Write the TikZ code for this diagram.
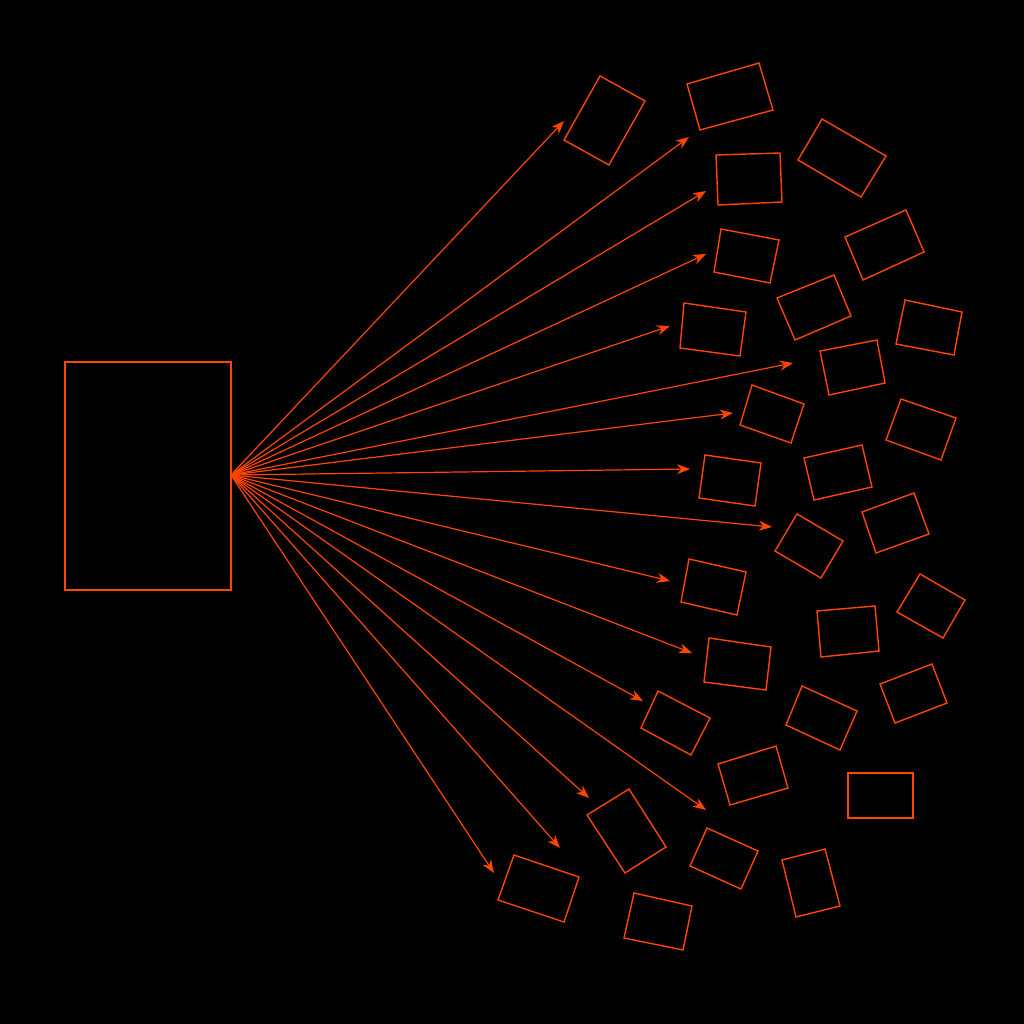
\documentclass[tikz,border=0pt]{standalone}
\usetikzlibrary{arrows.meta}
\definecolor{fg}{RGB}{255,69,0}
\begin{document}
\begin{tikzpicture}[x=1pt,y=-1pt,
  shp/.style={draw=fg,line width=1.4pt,line join=miter},
  arr/.style={draw=fg,line width=1.2pt,-{Stealth[length=13pt,width=10pt,inset=4pt]}}]
\fill[black] (0,0) rectangle (1024,1024);
\useasboundingbox (0,0) rectangle (1024,1024);
\node[shp,line width=1.7pt,minimum width=166pt,minimum height=228pt,inner sep=0pt,outer sep=0pt,anchor=north west] (src) at (65,362) {};
\coordinate (s) at (231,475);
% boxes
\draw[shp] (600,76)--(645,101)--(609,165)--(564,140)--cycle;
\draw[shp] (687,84)--(759,63)--(773,110)--(700,130)--cycle;
\draw[shp] (716,155)--(780,153)--(782,202)--(718,205)--cycle;
\draw[shp] (822,119)--(886,156)--(861,197)--(798,160)--cycle;
\draw[shp] (721,229)--(779,240)--(770,283)--(714,272)--cycle;
\draw[shp] (845,237)--(906,210)--(924,252)--(863,280)--cycle;
\draw[shp] (777,298)--(834,275)--(851,316)--(795,340)--cycle;
\draw[shp] (684,303)--(746,312)--(740,356)--(680,348)--cycle;
\draw[shp] (905,300)--(962,312)--(954,355)--(896,344)--cycle;
\draw[shp] (820,351)--(877,340)--(885,383)--(829,395)--cycle;
\draw[shp] (752,385)--(804,404)--(791,443)--(740,425)--cycle;
\draw[shp] (901,399)--(956,418)--(941,460)--(886,440)--cycle;
\draw[shp] (705,455)--(761,463)--(755,506)--(699,498)--cycle;
\draw[shp] (804,458)--(862,445)--(872,487)--(814,500)--cycle;
\draw[shp] (862,512)--(914,493)--(929,534)--(876,553)--cycle;
\draw[shp] (797,514)--(843,541)--(821,578)--(775,551)--cycle;
\draw[shp] (689,559)--(746,572)--(737,615)--(681,602)--cycle;
\draw[shp] (817,611)--(875,606)--(879,651)--(821,657)--cycle;
\draw[shp] (920,574)--(965,600)--(943,638)--(897,612)--cycle;
\draw[shp] (709,638)--(771,647)--(766,690)--(704,682)--cycle;
\draw[shp] (658,691)--(710,718)--(691,755)--(641,728)--cycle;
\draw[shp] (802,686)--(857,711)--(840,750)--(786,725)--cycle;
\draw[shp] (880,684)--(932,664)--(947,703)--(895,723)--cycle;
\draw[shp] (718,764)--(776,746)--(788,788)--(730,805)--cycle;
\draw[shp] (848,773)--(913,773)--(913,818)--(848,818)--cycle;
\draw[shp] (587,815)--(629,789)--(666,847)--(625,873)--cycle;
\draw[shp] (707,828)--(758,851)--(741,889)--(690,866)--cycle;
\draw[shp] (782,860)--(825,849)--(840,906)--(796,917)--cycle;
\draw[shp] (514,855)--(579,877)--(564,922)--(498,900)--cycle;
\draw[shp] (634,893)--(692,906)--(683,950)--(624,938)--cycle;
% arrow targets
\coordinate (t1) at (564,121);
\coordinate (t2) at (689,137);
\coordinate (t3) at (706,191);
\coordinate (t4) at (706,254);
\coordinate (t5) at (670,326);
\coordinate (t6) at (793,363);
\coordinate (t7) at (733,413);
\coordinate (t8) at (690,469);
\coordinate (t9) at (772,527);
\coordinate (t10) at (670,581);
\coordinate (t11) at (692,653);
\coordinate (t12) at (643,701);
\coordinate (t13) at (589,798);
\coordinate (t14) at (706,810);
\coordinate (t15) at (560,848);
\coordinate (t16) at (494,873);
\draw[arr] (s) -- (t1);
\draw[arr] (s) -- (t2);
\draw[arr] (s) -- (t3);
\draw[arr] (s) -- (t4);
\draw[arr] (s) -- (t5);
\draw[arr] (s) -- (t6);
\draw[arr] (s) -- (t7);
\draw[arr] (s) -- (t8);
\draw[arr] (s) -- (t9);
\draw[arr] (s) -- (t10);
\draw[arr] (s) -- (t11);
\draw[arr] (s) -- (t12);
\draw[arr] (s) -- (t13);
\draw[arr] (s) -- (t14);
\draw[arr] (s) -- (t15);
\draw[arr] (s) -- (t16);
\end{tikzpicture}
\end{document}
